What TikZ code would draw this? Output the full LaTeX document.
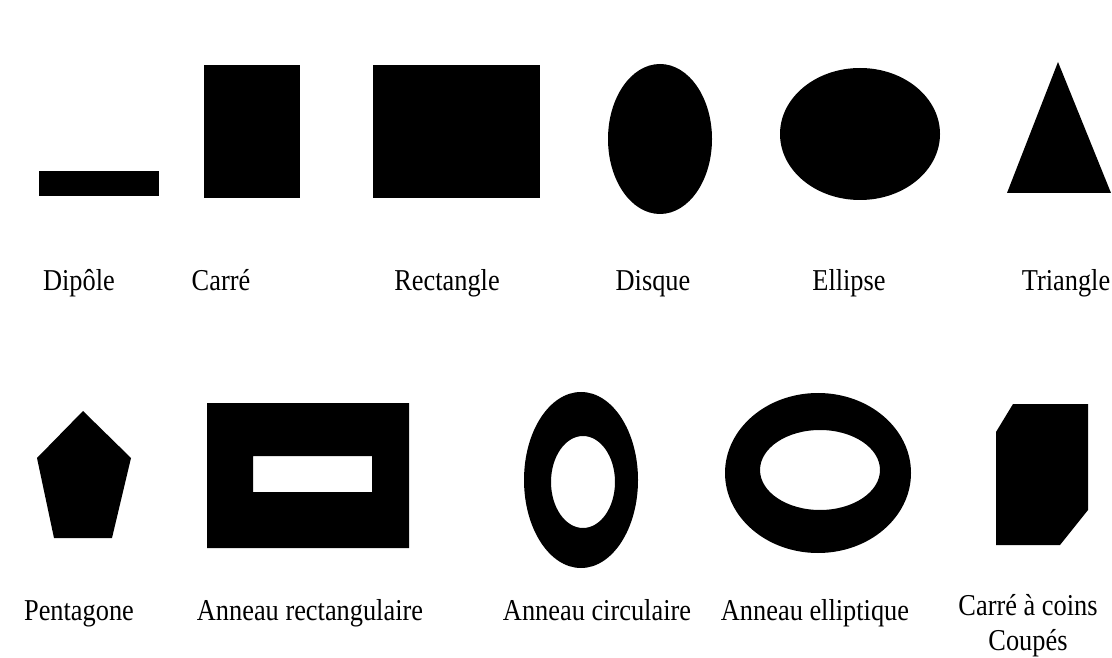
\documentclass[tikz,border=0pt]{standalone}
\usepackage{fontspec}
\setmainfont{Liberation Serif}
\usepackage{tikz}
\newcommand{\tallcapt}[1]{\scalebox{1}[1.15]{#1}}
\tikzset{
  solid shape/.style={fill=black, draw=none},
  ring/.style={fill=black, draw=none, even odd rule},
  caption/.style={anchor=mid, inner sep=0pt, align=center, font=\fontsize{15}{20}\selectfont}
}
\begin{document}
\begin{tikzpicture}[x=0.02cm, y=-0.02cm]
\useasboundingbox (0,0) rectangle (1112,658);
% first row
\fill[solid shape] (39,171) rectangle (159,196);
\fill[solid shape] (204,65) rectangle (300,198);
\fill[solid shape] (373,65) rectangle (540,198);
\fill[solid shape] (660,139) ellipse (52 and 75);
\fill[solid shape] (860,134) ellipse (80 and 66);
\fill[solid shape] (1058,62) -- (1111,193) -- (1007,193) -- cycle;
\node[caption] (dipole) at (79,286) {\tallcapt{Dipôle}};
\node[caption] (carre) at (221,286) {\tallcapt{Carré}};
\node[caption] (rect) at (447,286) {\tallcapt{Rectangle}};
\node[caption] (disque) at (653,286) {\tallcapt{Disque}};
\node[caption] (ellipse) at (849,286) {\tallcapt{Ellipse}};
\node[caption] (triangle) at (1066,286) {\tallcapt{Triangle}};
% second row
\fill[solid shape] (83,411) -- (131,458) -- (112,538) -- (54,538) -- (37,458) -- cycle;
\fill[ring] (207,403) rectangle (409,548) (253,456) rectangle (372,492);
\fill[ring] (581,480) ellipse (57 and 88) (583,482) ellipse (32 and 46);
\fill[ring] (818,473) ellipse (93 and 80) (820,470) ellipse (60 and 40);
\fill[solid shape] (1013,404) -- (1088,404) -- (1088,510) -- (1060,545) -- (996,545) -- (996,432) -- cycle;
\node[caption] (penta) at (79,616) {\tallcapt{Pentagone}};
\node[caption] (annrect) at (310,616) {\tallcapt{Anneau rectangulaire}};
\node[caption] (anncirc) at (597,616) {\tallcapt{Anneau circulaire}};
\node[caption] (annell) at (815,616) {\tallcapt{Anneau elliptique}};
\node[caption, anchor=center] (coupe) at (1028,626) {\tallcapt{Carré à coins}\\\tallcapt{Coupés}};
\end{tikzpicture}
\end{document}
